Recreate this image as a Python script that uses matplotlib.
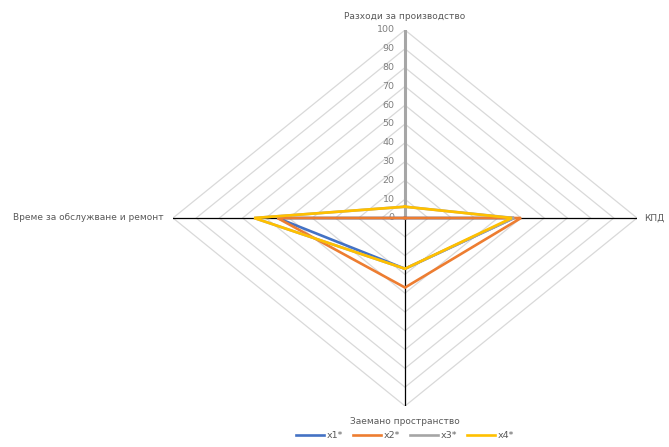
import numpy as np
import matplotlib.pyplot as plt

categories = ['Разходи за производство', 'КПД', 'Заемано пространство',
              'Време за обслужване и ремонт']
series_names = ['x1*', 'x2*', 'x3*', 'x4*']
x1 = [0, 47, 27, 55]
x2 = [0, 50, 37, 55]
x3 = [6, 47, 27, 65]
x4 = [6, 46, 27, 65]
ticks = list(range(0, 101, 10))

colors = ['#4472C4', '#ED7D31', '#A5A5A5', '#FFC000']

# clockwise from the top: up, right, down, left
angles = np.arange(len(categories)) * 2 * np.pi / len(categories)
sx = np.sin(angles)
sy = np.cos(angles)


def to_xy(vals):
    v = np.asarray(vals, dtype=float)
    x = v * sx
    y = v * sy
    return np.append(x, x[0]), np.append(y, y[0])


fig = plt.figure(figsize=(6.69, 4.47), dpi=100)
ax = fig.add_axes([173 / 669, 1 - 406 / 447, 464 / 669, 376 / 447])
ax.set_xlim(-100, 100)
ax.set_ylim(-100, 100)
ax.axis('off')

# diamond grid
for t in ticks[1:]:
    gx, gy = to_xy([t] * len(categories))
    ax.plot(gx, gy, color='#d9d9d9', lw=0.9, zorder=1)

# spokes
ax.plot([-100, 100], [0, 0], color='black', lw=0.9, zorder=2)
ax.plot([0, 0], [0, -100], color='black', lw=0.9, zorder=2)
ax.plot([0, 0], [0, 100], color='#a6a6a6', lw=2.2, zorder=2)

for t in ticks:
    ax.text(-4.5, t, str(t), ha='right', va='center', fontsize=6.8,
            color='#7f7f7f')

for vals, name, c in zip([x1, x2, x3, x4], series_names, colors):
    px, py = to_xy(vals)
    ax.plot(px, py, color=c, lw=1.9, label=name, zorder=3,
            solid_joinstyle='miter')

lab_kw = dict(fontsize=6.5, color='#595959')
ax.text(0, 107, categories[0], ha='center', va='center', **lab_kw)
ax.text(103, 0, categories[1], ha='left', va='center', **lab_kw)
ax.text(0, -108, categories[2], ha='center', va='center', **lab_kw)
ax.text(-104, 0, categories[3], ha='right', va='center', **lab_kw)

fig.legend(loc='center', bbox_to_anchor=(405 / 669, 1 - 436 / 447), ncol=4,
           frameon=False, fontsize=6.8, handlelength=2.9, columnspacing=1.1,
           handletextpad=0.3, labelcolor='#595959')

fig.savefig('out.png', dpi=100)
